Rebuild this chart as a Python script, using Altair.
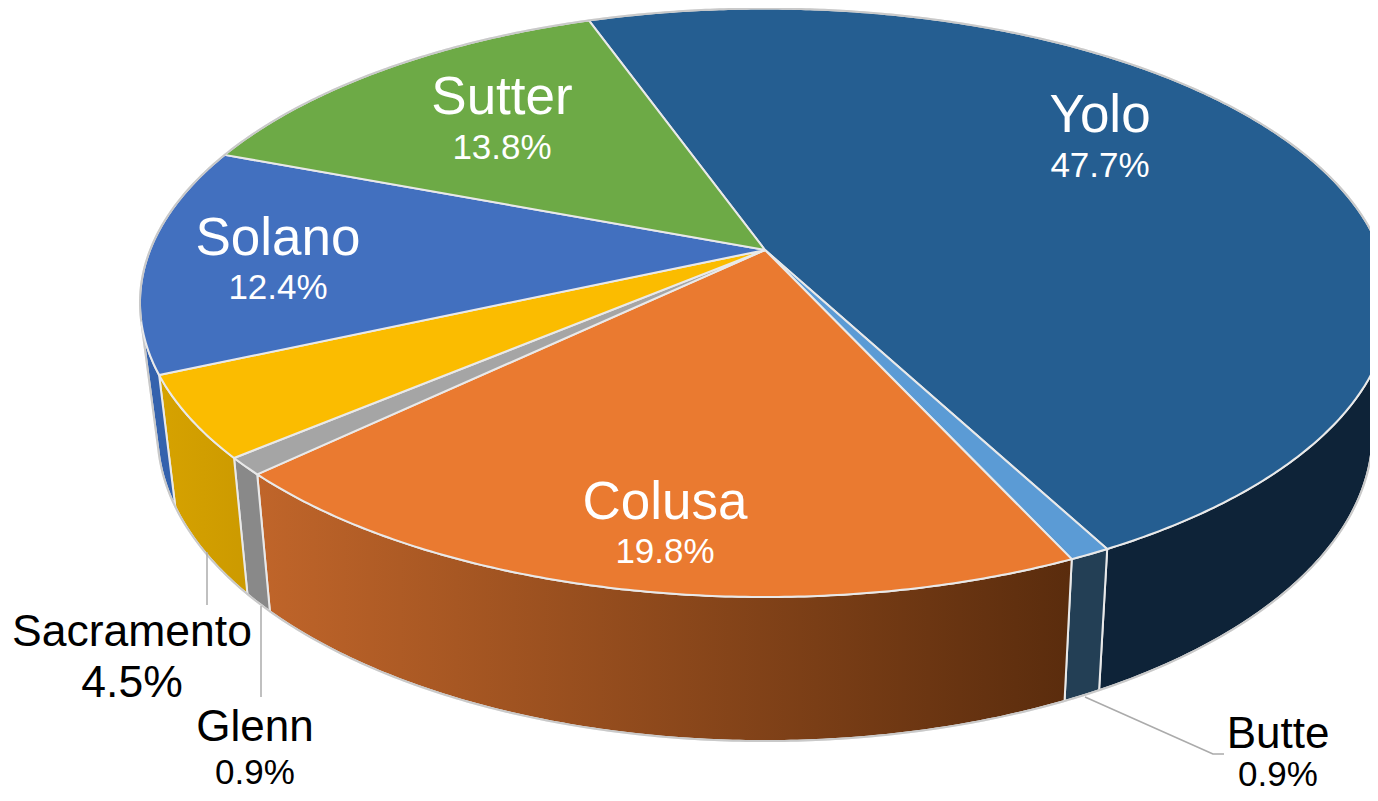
import math
import altair as alt
import pandas as pd

# ---- data
names = ["Yolo", "Butte", "Colusa", "Glenn", "Sacramento", "Solano", "Sutter"]
shares = [47.7, 0.9, 19.7, 0.95, 4.5, 12.45, 13.8]
share_labels = ["47.7%", "0.9%", "19.8%", "0.9%", "4.5%", "12.4%", "13.8%"]

# ---- styles
top_colors = ["#255E91", "#5B9BD5", "#EA7A30", "#A5A5A5", "#FBBC00", "#4270BF", "#6DAA46"]
wall_left = ["#0E2338", "#233F55", "#C0652A", "#898989", "#D6A200", "#3462AD", "#4A7530"]
wall_right = ["#0E2338", "#233F55", "#5A2C0D", "#898989", "#CC9A00", "#3462AD", "#4A7530"]
edge_color = "#E9E9E9"
rim_color = "#C9C9C9"
leader_color = "#ABABAB"

# ---- layout
FONT = "Liberation Sans"
start_angle = -19.6
wall_visible = (104.0, 256.0)
label_x = [1100, 1278, 665, 255, 132, 278, 502]
name_y = [132, 748, 519, 741, 646, 255, 114]
share_y = [177, 786, 563, 784, 697, 299, 159]
name_size = [53, 44, 53, 44, 44.5, 53, 53]
share_size = [35, 35, 35, 35, 44.5, 35, 35]
light_text = [True, False, True, False, False, True, True]
leaders = {
    "Sacramento": ([207, 207], [552, 605]),
    "Glenn": ([261, 261], [606, 697]),
    "Butte": ([1085, 1213, 1224], [697, 754, 754]),
}

W, H = 1362, 785
xs = alt.Scale(domain=[8, 8 + W], nice=False, zero=False)
ys = alt.Scale(domain=[8 + H, 8], nice=False, zero=False)


def top_pt(deg):
    t = math.radians(deg)
    u, v = math.sin(t), -math.cos(t)
    d = 1 - 0.181 * v
    return 765 + 614.7 * u / d, 249.5 + 284.6 * v / d


def low_pt(deg):
    t = math.radians(deg)
    u, v = math.sin(t), -math.cos(t)
    d = 1 - 0.186 * v
    return 765 + 597 * u / d, 375 + 298 * v / d


def arc(fn, a, b):
    n = max(2, int(abs(b - a) * 2))
    return [fn(a + (b - a) * i / n) for i in range(n + 1)]


def poly(pts):
    return pd.DataFrame({"x": [p[0] for p in pts], "y": [p[1] for p in pts], "i": range(len(pts))})


def shape(pts, fill=None, stroke=edge_color, width=2.0):
    kw = {"fill": fill} if fill is not None else {}
    return alt.Chart(poly(pts)).mark_line(
        stroke=stroke, strokeWidth=width, strokeJoin="round", clip=True, **kw
    ).encode(
        x=alt.X("x:Q", scale=xs, axis=None),
        y=alt.Y("y:Q", scale=ys, axis=None),
        order=alt.Order("i:Q"),
    )


total = sum(shares)
bounds = [start_angle]
for s in shares:
    bounds.append(bounds[-1] + s * 360 / total)

walls, tops = [], []
for k in range(len(names)):
    a, b = bounds[k], bounds[k + 1]
    wa, wb = max(a, wall_visible[0]), min(b, wall_visible[1])
    if wb > wa:
        pts = arc(top_pt, wa, wb) + arc(low_pt, wb, wa)
        pts.append(pts[0])
        grad = {
            "gradient": "linear", "x1": 0, "y1": 0, "x2": 1, "y2": 0,
            "stops": [{"offset": 0, "color": wall_left[k]}, {"offset": 1, "color": wall_right[k]}],
        }
        walls.append(shape(pts, fill=grad))
    pts = [(765, 250)] + arc(top_pt, a, b) + [(765, 250)]
    tops.append(shape(pts, fill=top_colors[k]))

low_rim = shape(
    [top_pt(wall_visible[0])] + arc(low_pt, wall_visible[0], wall_visible[1]) + [top_pt(wall_visible[1])],
    stroke=rim_color, width=2.0,
)
top_rim = shape(arc(top_pt, wall_visible[1], 360 + wall_visible[0] - 10), stroke=rim_color, width=2.0)

lines = []
for nm, (lx, ly) in leaders.items():
    lines.append(shape(list(zip(lx, ly)), stroke=leader_color, width=1.5))

texts = []
for k in range(len(names)):
    col = "#FFFFFF" if light_text[k] else "#000000"
    for txt, yy, sz in ((names[k], name_y[k], name_size[k]), (share_labels[k], share_y[k], share_size[k])):
        df = pd.DataFrame({"x": [label_x[k]], "y": [yy], "t": [txt]})
        texts.append(
            alt.Chart(df).mark_text(font=FONT, fontSize=sz, color=col, align="center", baseline="alphabetic").encode(
                x=alt.X("x:Q", scale=xs, axis=None),
                y=alt.Y("y:Q", scale=ys, axis=None),
                text="t:N",
            )
        )

chart = alt.layer(*walls, low_rim, *tops, top_rim, *lines, *texts).properties(
    width=W, height=H, padding=0, autosize=alt.AutoSizeParams(type="none"), background="#FFFFFF"
).configure_view(stroke=None)

chart.save("out.html", embed_options={"renderer": "svg", "actions": False})
